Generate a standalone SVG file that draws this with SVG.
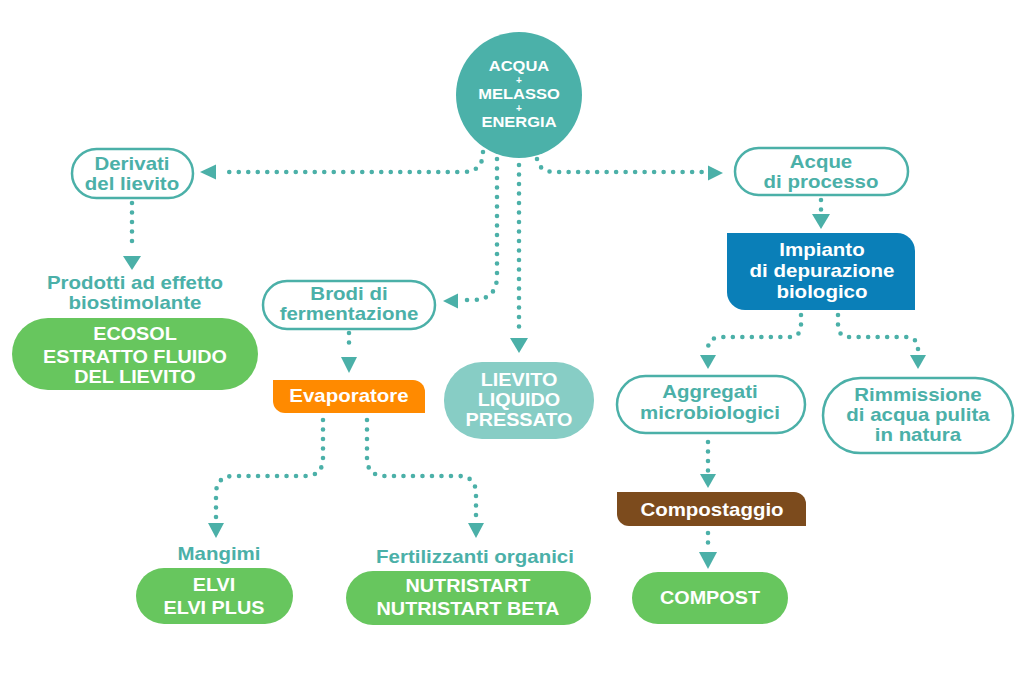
<svg xmlns="http://www.w3.org/2000/svg" width="1024" height="679" viewBox="0 0 1024 679">
<style>
.t{font-family:"Liberation Sans",Arial,sans-serif;font-weight:700;text-anchor:middle;dominant-baseline:central;transform-box:fill-box;transform-origin:center}
.tl{fill:#4bb0a8;font-size:17.5px;transform:scaleX(1.17)}
.w{fill:#ffffff;font-size:17.5px;transform:scaleX(1.17)}
.wb{fill:#ffffff;font-size:18px;transform:scaleX(1.1)}
.wc{fill:#ffffff;font-size:15px;transform:scaleX(1.1)}
.wc.p{font-size:10px;transform:none}
.ob{fill:#ffffff;stroke:#4bb0a8;stroke-width:2.5}
.dot{fill:none;stroke:#4bb0a8;stroke-width:4.6;stroke-linecap:round;stroke-dasharray:0 9.5}
.ah{fill:#4bb0a8}
</style>
<rect width="1024" height="679" fill="#ffffff"/>
<g id="connectors">
<path class="dot" d="M483,152 Q483,172 463,172 L222,172"/>
<polygon class="ah" points="200,172 216,164.5 216,179.5"/>
<path class="dot" d="M497,159 L497,276 Q497,300 472,300 L463,300"/>
<polygon class="ah" points="443,301 458,293.5 458,308.5"/>
<path class="dot" d="M519,165 L519,333"/>
<polygon class="ah" points="510,338 528,338 519,353"/>
<path class="dot" d="M537,159 Q539,172 556,172 L713,172"/>
<polygon class="ah" points="708,165.5 708,180.5 723,173"/>
<path class="dot" d="M132,203 L132,250"/>
<polygon class="ah" points="123,256 141,256 132,270"/>
<path class="dot" d="M349,333 L349,352"/>
<polygon class="ah" points="341,357 357,357 349,373"/>
<path class="dot" d="M821,200 L821,210"/>
<polygon class="ah" points="812,214 830,214 821,229"/>
<path class="dot" d="M801,315 L801,325 Q801,337 789,337 L722,337 Q708,337 708,349"/>
<polygon class="ah" points="700,355 716,355 708,369"/>
<path class="dot" d="M838,315 L838,325 Q838,337 850,337 L905,337 Q918,337 918,349"/>
<polygon class="ah" points="910,355 926,355 918,369"/>
<path class="dot" d="M708,442 L708,472"/>
<polygon class="ah" points="700,474 716,474 708,488"/>
<path class="dot" d="M708,533 L708,546"/>
<polygon class="ah" points="699,552 717,552 708,569"/>
<path class="dot" d="M323,420 L323,458 Q323,476 305,476 L234,476 Q216,476 216,494 L216,517"/>
<polygon class="ah" points="208,523 224,523 216,538"/>
<path class="dot" d="M367,420 L367,458 Q367,476 385,476 L458,476 Q476,476 476,494 L476,517"/>
<polygon class="ah" points="468,523 484,523 476,538"/>
</g>
<g id="source">
<circle cx="519" cy="95" r="63" fill="#4bb1a9"/>
<text class="t wc" x="519" y="66">ACQUA</text>
<text class="t wc p" x="519" y="80">+</text>
<text class="t wc" x="519" y="94">MELASSO</text>
<text class="t wc p" x="519" y="108">+</text>
<text class="t wc" x="519" y="122">ENERGIA</text>
</g>
<g id="derivati">
<rect class="ob" x="72" y="149" width="121" height="49" rx="24.5"/>
<text class="t tl" x="132" y="164">Derivati</text>
<text class="t tl" x="132" y="184">del lievito</text>
</g>
<g id="prodotti-label">
<text class="t tl" x="135" y="283">Prodotti ad effetto</text>
<text class="t tl" x="135" y="303">biostimolante</text>
</g>
<g id="ecosol">
<rect x="12" y="318" width="246" height="72" rx="36" fill="#67c65e"/>
<text class="t wb" x="135" y="334">ECOSOL</text>
<text class="t wb" x="135" y="357">ESTRATTO FLUIDO</text>
<text class="t wb" x="135" y="377">DEL LIEVITO</text>
</g>
<g id="brodi">
<rect class="ob" x="263" y="281" width="172" height="48" rx="24"/>
<text class="t tl" x="349" y="294">Brodi di</text>
<text class="t tl" x="349" y="314">fermentazione</text>
</g>
<g id="evaporatore">
<path d="M273,380 H413 A12,12 0 0 1 425,392 V413 H285 A12,12 0 0 1 273,401 Z" fill="#ff8a00"/>
<text class="t w" x="349" y="396">Evaporatore</text>
</g>
<g id="lievito">
<rect x="444" y="362" width="150" height="77" rx="38" fill="#87cdc5"/>
<text class="t wb" x="519" y="380">LIEVITO</text>
<text class="t wb" x="519" y="400">LIQUIDO</text>
<text class="t wb" x="519" y="420">PRESSATO</text>
</g>
<g id="mangimi">
<text class="t tl" x="219" y="554">Mangimi</text>
<rect x="136" y="568" width="157" height="56" rx="28" fill="#67c65e"/>
<text class="t wb" x="214" y="585">ELVI</text>
<text class="t wb" x="214" y="608">ELVI PLUS</text>
</g>
<g id="fertilizzanti">
<text class="t tl" x="475" y="557">Fertilizzanti organici</text>
<rect x="346" y="571" width="245" height="54" rx="27" fill="#67c65e"/>
<text class="t wb" x="468" y="586">NUTRISTART</text>
<text class="t wb" x="468" y="609">NUTRISTART BETA</text>
</g>
<g id="acque">
<rect class="ob" x="735" y="148" width="173" height="47" rx="23.5"/>
<text class="t tl" x="821" y="162">Acque</text>
<text class="t tl" x="821" y="182">di processo</text>
</g>
<g id="impianto">
<path d="M727,233 H897 A18,18 0 0 1 915,251 V310 H745 A18,18 0 0 1 727,292 Z" fill="#0a7fb8"/>
<text class="t w" x="822" y="250" style="font-size:18px;transform:scaleX(1.14)">Impianto</text>
<text class="t w" x="822" y="271" style="font-size:18px;transform:scaleX(1.14)">di depurazione</text>
<text class="t w" x="822" y="292" style="font-size:18px;transform:scaleX(1.14)">biologico</text>
</g>
<g id="aggregati">
<rect class="ob" x="617" y="376" width="188" height="57" rx="28.5"/>
<text class="t tl" x="710" y="392">Aggregati</text>
<text class="t tl" x="710" y="413">microbiologici</text>
</g>
<g id="rimmissione">
<rect class="ob" x="823" y="378" width="190" height="75" rx="37.5"/>
<text class="t tl" x="918" y="395">Rimmissione</text>
<text class="t tl" x="918" y="415">di acqua pulita</text>
<text class="t tl" x="918" y="435">in natura</text>
</g>
<g id="compostaggio">
<path d="M617,492 H794 A12,12 0 0 1 806,504 V526 H629 A12,12 0 0 1 617,514 Z" fill="#7c4b1d"/>
<text class="t w" x="712" y="510">Compostaggio</text>
</g>
<g id="compost">
<rect x="632" y="572" width="156" height="52" rx="26" fill="#67c65e"/>
<text class="t wb" x="710" y="598">COMPOST</text>
</g>
</svg>
